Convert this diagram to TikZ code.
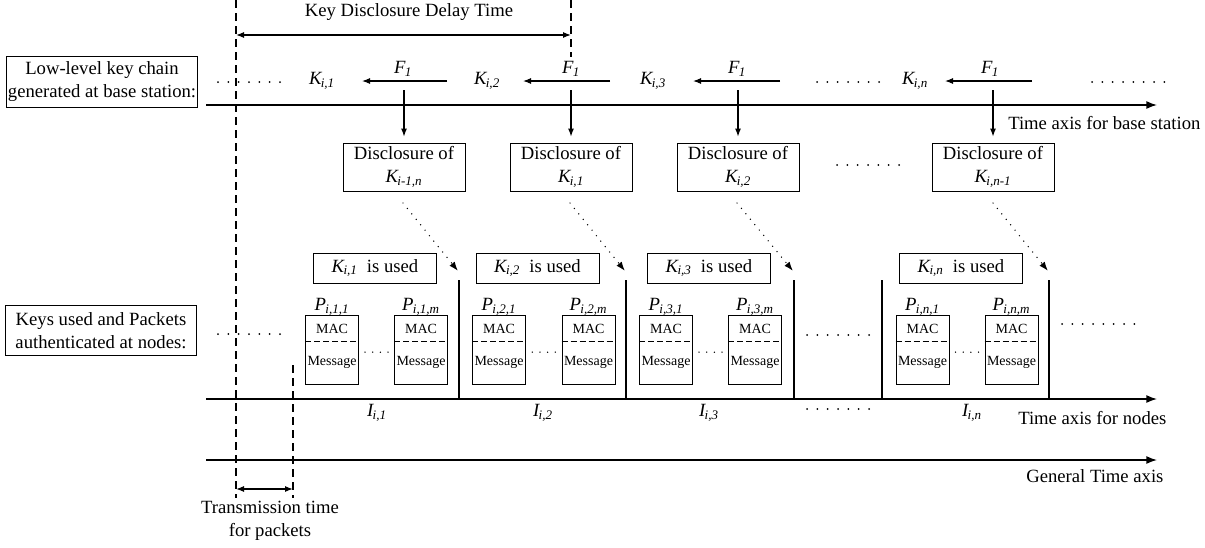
\documentclass[tikz,border=0pt]{standalone}
\usepackage{fontspec}
\setmainfont{Liberation Serif}
\usetikzlibrary{arrows.meta}
\newcommand\sbk[2]{\textit{#1\textsubscript{\kern-0.5pt#2}}}
\begin{document}
\begin{tikzpicture}[x=0.75pt,y=-0.75pt,
  txt/.style={font=\fontsize{14}{17.25}\selectfont, inner sep=0pt, align=center},
  small/.style={font=\fontsize{10.5}{12}\selectfont, inner sep=0pt},
  box/.style={txt, draw, line width=0.7pt},
  lbox/.style={box, minimum width=143.5pt, minimum height=38pt},
  disc/.style={box, minimum width=91.5pt, minimum height=36pt},
  used/.style={box, minimum width=92.25pt, minimum height=22.5pt},
  pkt/.style={draw, line width=0.7pt, minimum width=39.75pt, minimum height=51.75pt, inner sep=0pt},
  axis/.style={line width=1.1pt, -{Latex[length=8pt,width=6pt]}},
  arr/.style={line width=0.8pt, -{Latex[length=6pt,width=4.5pt]}},
  dbl/.style={line width=0.9pt, {Latex[length=6pt,width=4.5pt]}-{Latex[length=6pt,width=4.5pt]}},
  dashln/.style={line width=0.9pt, dash pattern=on 6pt off 3.75pt},
  dotarr/.style={line width=1.1pt, line cap=round, dash pattern=on 0pt off 5.25pt, -{Latex[length=7pt,width=5pt]}},
  dotrow/.style={line width=1.5pt, line cap=round, dash pattern=on 0pt off 7.75pt},
  sdotrow/.style={line width=1.1pt, line cap=round, dash pattern=on 0pt off 5.75pt},
  bound/.style={line width=1pt}
]
\useasboundingbox (0,0) rectangle (1205,547);

% dashed reference lines
\coordinate (dA0) at (236,0);   \coordinate (dA1) at (236,498);
\coordinate (dB0) at (571,0);   \coordinate (dB1) at (571,57);
\coordinate (dC0) at (293,365); \coordinate (dC1) at (293,498);
\draw[dashln] (dA0) -- (dA1);
\draw[dashln] (dB0) -- (dB1);
\draw[dashln] (dC0) -- (dC1);

% key disclosure delay
\node[txt] (kddt) at (409,12) {Key Disclosure Delay Time};
\coordinate (kd0) at (236,35); \coordinate (kd1) at (571,35);
\draw[dbl] (kd0) -- (kd1);

% transmission time
\coordinate (tt0) at (236,489); \coordinate (tt1) at (293,489);
\draw[dbl] (tt0) -- (tt1);
\node[txt] (ttl) at (270,521) {Transmission time\\for packets};

% left labels
\node[lbox] (lk) at (102,82) {Low-level key chain\\generated at base station:};
\node[lbox] (lp) at (101,330.5) {Keys used and Packets\\authenticated at nodes:};

% axes
\coordinate (bs0) at (206,105); \coordinate (bs1) at (1157,105);
\coordinate (nd0) at (206,399); \coordinate (nd1) at (1157,399);
\coordinate (gt0) at (206,460); \coordinate (gt1) at (1157,460);
\draw[axis] (bs0) -- (bs1);
\draw[axis] (nd0) -- (nd1);
\draw[axis] (gt0) -- (gt1);
\node[txt, anchor=west] (bsl) at (1008,123) {Time axis for base station};
\node[txt, anchor=west] (ndl) at (1018,418) {Time axis for nodes};
\node[txt, anchor=west] (gtl) at (1026,476) {General Time axis};

% key chain
\node[txt] (k1) at (322,81) {\sbk{K}{i,1}};
\node[txt] (k2) at (487,81) {\sbk{K}{i,2}};
\node[txt] (k3) at (653,81) {\sbk{K}{i,3}};
\node[txt] (kn) at (915,81) {\sbk{K}{i,n}};
\coordinate (a1s) at (447,81);  \coordinate (a1e) at (362,81);
\coordinate (a2s) at (610,81);  \coordinate (a2e) at (523,81);
\coordinate (a3s) at (780,81);  \coordinate (a3e) at (693,81);
\coordinate (a4s) at (1032,81); \coordinate (a4e) at (945,81);
\draw[arr] (a1s) -- (a1e);
\draw[arr] (a2s) -- (a2e);
\draw[arr] (a3s) -- (a3e);
\draw[arr] (a4s) -- (a4e);
\node[txt] (f1) at (403,69) {\sbk{F}{1}};
\node[txt] (f2) at (571,69) {\sbk{F}{1}};
\node[txt] (f3) at (737,69) {\sbk{F}{1}};
\node[txt] (f4) at (990,69) {\sbk{F}{1}};

% dotted continuation rows (top)
\draw[dotrow] (218,82) -- (280.3,82);
\draw[dotrow] (817,82) -- (879.3,82);
\draw[dotrow] (1092,82) -- (1164.5,82);

% disclosure boxes
\node[disc] (d1) at (404,167) {Disclosure of\\\sbk{K}{i-1,n}};
\node[disc] (d2) at (571,167) {Disclosure of\\\sbk{K}{i,1}};
\node[disc] (d3) at (738,167) {Disclosure of\\\sbk{K}{i,2}};
\node[disc] (d4) at (993,167) {Disclosure of\\\sbk{K}{i,n-1}};
\draw[dotrow] (837,165) -- (899.3,165);

\coordinate (t1) at (404,90); \coordinate (t2) at (571,90);
\coordinate (t3) at (738,90); \coordinate (t4) at (993,90);
\draw[arr, shorten >=4.5pt] (t1) -- (d1.north);
\draw[arr, shorten >=4.5pt] (t2) -- (d2.north);
\draw[arr, shorten >=4.5pt] (t3) -- (d3.north);
\draw[arr, shorten >=4.5pt] (t4) -- (d4.north);

% dotted disclosure arrows
\coordinate (s1) at (403,203); \coordinate (e1) at (458,271);
\coordinate (s2) at (570,203); \coordinate (e2) at (625,271);
\coordinate (s3) at (737,203); \coordinate (e3) at (793,271);
\coordinate (s4) at (993,203); \coordinate (e4) at (1048,271);
\draw[dotarr] (s1) -- (e1);
\draw[dotarr] (s2) -- (e2);
\draw[dotarr] (s3) -- (e3);
\draw[dotarr] (s4) -- (e4);

% key used boxes
\node[used] (u1) at (375,268) {\sbk{K}{i,1}\ \ is used};
\node[used] (u2) at (537.5,268) {\sbk{K}{i,2}\ \ is used};
\node[used] (u3) at (709,268) {\sbk{K}{i,3}\ \ is used};
\node[used] (u4) at (961,268) {\sbk{K}{i,n}\ \ is used};

% interval boundaries
\foreach \bx/\nm in {459/b1,626/b2,794/b3,882/b4,1049/b5}{
  \coordinate (\nm t) at (\bx,280);
  \coordinate (\nm b) at (\bx,399);
  \draw[bound] (\nm t) -- (\nm b);
}

% packets
\foreach \ca/\cb/\g in {332/421/1,499/588.5/2,666/755/3,922.5/1011.5/n}{
  \node[pkt] (p\g a) at (\ca,349.5) {};
  \node[pkt] (p\g b) at (\cb,349.5) {};
  \node[txt, anchor=south] (pl\g a) at ([yshift=-1pt]p\g a.north) {\sbk{P}{i,\g,1}};
  \node[txt, anchor=south] (pl\g b) at ([yshift=-1pt]p\g b.north) {\sbk{P}{i,\g,m}};
  \foreach \q in {a,b}{
    \draw[line width=0.8pt, dash pattern=on 4.5pt off 2.25pt]
      ([yshift=-20.25pt]p\g\q.north west) -- ([yshift=-20.25pt]p\g\q.north east);
    \node[small] (mac\g\q) at ([yshift=-10.5pt]p\g\q.north) {MAC};
    \node[small] (msg\g\q) at ([yshift=-36pt]p\g\q.north) {Message};
  }
  \path (p\g a.east) -- (p\g b.west) coordinate[pos=0.5] (mid\g);
  \draw[sdotrow] ([xshift=-8.6pt,yshift=-2pt]mid\g) -- ([xshift=8.7pt,yshift=-2pt]mid\g);
}

% dotted rows (nodes area)
\draw[dotrow] (218,334) -- (280.3,334);
\draw[dotrow] (807,335) -- (869.3,335);
\draw[dotrow] (1062,324) -- (1134.5,324);
\draw[dotrow] (807,409) -- (869.3,409);

% interval labels
\node[txt] (i1) at (377,413) {\sbk{I}{i,1}};
\node[txt] (i2) at (543,413) {\sbk{I}{i,2}};
\node[txt] (i3) at (709,413) {\sbk{I}{i,3}};
\node[txt] (in) at (972,413) {\sbk{I}{i,n}};
\end{tikzpicture}
\end{document}
